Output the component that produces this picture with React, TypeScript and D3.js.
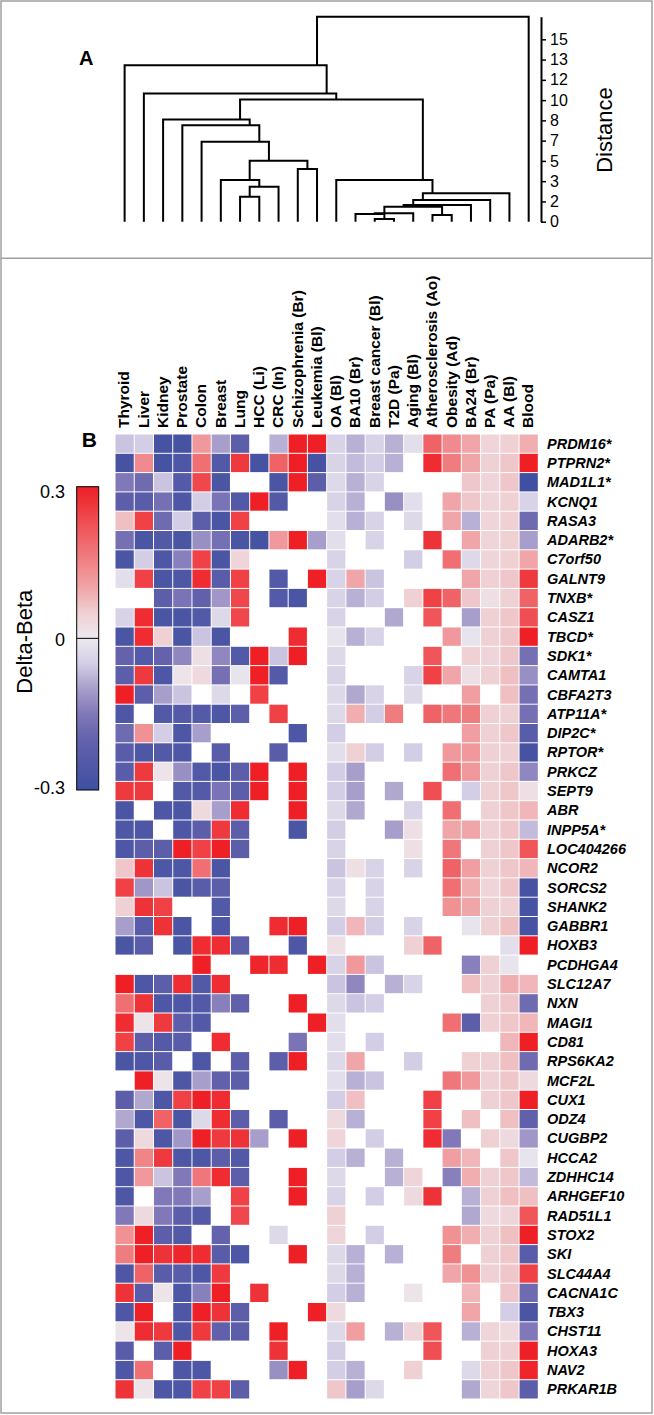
import React, { useEffect, useRef } from 'react';
import * as d3 from 'd3';

const conditions = [
  'Thyroid', 'Liver', 'Kidney', 'Prostate', 'Colon', 'Breast', 'Lung', 'HCC (Li)', 'CRC (In)',
  'Schizophrenia (Br)', 'Leukemia (Bl)', 'OA (Bl)', 'BA10 (Br)', 'Breast cancer (Bl)', 'T2D (Pa)',
  'Aging (Bl)', 'Atherosclerosis (Ao)', 'Obesity (Ad)', 'BA24 (Br)', 'PA (Pa)', 'AA (Bl)', 'Blood',
];

const genes = [
  'PRDM16*', 'PTPRN2*', 'MAD1L1*', 'KCNQ1', 'RASA3', 'ADARB2*', 'C7orf50', 'GALNT9', 'TNXB*', 'CASZ1',
  'TBCD*', 'SDK1*', 'CAMTA1', 'CBFA2T3', 'ATP11A*', 'DIP2C*', 'RPTOR*', 'PRKCZ', 'SEPT9', 'ABR',
  'INPP5A*', 'LOC404266', 'NCOR2', 'SORCS2', 'SHANK2', 'GABBR1', 'HOXB3', 'PCDHGA4', 'SLC12A7', 'NXN',
  'MAGI1', 'CD81', 'RPS6KA2', 'MCF2L', 'CUX1', 'ODZ4', 'CUGBP2', 'HCCA2', 'ZDHHC14', 'ARHGEF10',
  'RAD51L1', 'STOX2', 'SKI', 'SLC44A4', 'CACNA1C', 'TBX3', 'CHST11', 'HOXA3', 'NAV2', 'PRKAR1B',
];

const _ = null;
// delta-beta per gene (rows) and condition (columns); null = not significant
const deltaBeta: (number | null)[][] = [
  [-0.06, -0.05, -0.28, -0.28, 0.12, -0.1, -0.22, _, -0.08, 0.3, 0.3, -0.04, -0.08, -0.04, -0.08, -0.02, 0.2, 0.14, 0.1, 0.04, 0.05, 0.09],
  [-0.28, 0.14, -0.28, -0.26, 0.18, -0.25, 0.26, -0.28, 0.2, 0.3, -0.28, -0.04, -0.07, -0.05, -0.08, _, 0.28, 0.16, 0.1, 0.05, 0.06, 0.3],
  [-0.15, -0.18, -0.06, -0.24, 0.24, -0.27, _, _, -0.27, 0.3, -0.22, -0.03, -0.08, -0.04, _, _, _, _, 0.06, 0.04, 0.06, -0.3],
  [-0.22, -0.23, -0.17, -0.26, -0.05, -0.16, -0.25, 0.3, -0.25, _, _, -0.04, -0.08, _, -0.12, -0.02, _, 0.1, 0.06, 0.04, 0.05, -0.04],
  [0.07, 0.25, -0.18, -0.05, -0.22, -0.27, 0.25, _, _, _, _, -0.02, -0.08, -0.04, _, -0.03, _, 0.1, -0.08, 0.04, 0.05, -0.18],
  [-0.17, -0.27, -0.25, -0.27, -0.12, -0.17, -0.27, -0.28, 0.12, 0.3, -0.1, -0.02, _, -0.04, _, _, 0.27, _, 0.1, 0.04, 0.05, -0.1],
  [-0.27, -0.05, -0.26, -0.14, 0.25, -0.27, 0.04, _, _, _, _, -0.04, _, _, _, -0.05, _, 0.18, -0.03, 0.04, 0.05, 0.1],
  [-0.02, 0.25, -0.27, -0.26, 0.28, -0.23, 0.25, _, -0.25, _, 0.3, -0.04, 0.1, -0.06, _, _, _, _, 0.1, 0.05, 0.06, 0.26],
  [_, _, -0.22, -0.16, -0.21, -0.11, 0.24, _, -0.24, -0.27, _, -0.04, -0.08, -0.05, _, 0.05, 0.25, 0.2, 0.06, 0.02, 0.05, 0.2],
  [-0.04, 0.28, -0.27, -0.27, -0.25, -0.03, 0.24, _, _, _, _, -0.04, _, _, -0.09, _, 0.22, _, -0.1, 0.05, 0.06, 0.23],
  [-0.27, 0.28, 0.05, -0.27, -0.06, -0.27, _, _, _, 0.28, _, -0.01, -0.08, -0.04, _, _, _, 0.12, -0.01, 0.05, 0.06, 0.3],
  [-0.2, -0.24, -0.2, -0.13, 0.02, -0.13, -0.25, 0.3, -0.06, 0.3, _, -0.03, _, _, _, _, 0.22, _, 0.05, 0.04, 0.06, -0.17],
  [-0.22, 0.26, -0.26, 0.01, 0.03, -0.17, -0.01, 0.3, -0.24, _, _, -0.04, _, _, _, -0.04, 0.25, 0.1, 0.02, 0.05, 0.07, -0.12],
  [0.3, -0.22, -0.1, -0.06, _, -0.03, _, 0.25, _, _, _, -0.03, -0.09, -0.04, _, -0.03, _, _, 0.11, _, 0.07, -0.17],
  [-0.26, _, -0.25, -0.24, -0.24, -0.26, -0.22, _, 0.25, _, _, -0.03, 0.09, -0.05, 0.16, _, 0.2, 0.17, 0.16, 0.05, 0.05, -0.17],
  [-0.18, 0.13, -0.05, -0.26, -0.1, _, _, _, _, -0.26, _, -0.05, _, _, _, _, _, _, 0.11, 0.05, 0.06, -0.23],
  [-0.23, -0.26, -0.25, -0.26, _, -0.23, _, _, -0.23, _, _, -0.02, 0.05, -0.05, _, -0.05, _, 0.12, 0.12, 0.05, 0.05, -0.28],
  [-0.23, 0.26, 0.01, -0.12, -0.25, -0.27, -0.22, 0.3, _, 0.3, _, -0.05, -0.1, _, _, _, _, 0.18, 0.12, 0.05, 0.06, -0.13],
  [0.26, 0.26, _, -0.25, -0.24, -0.16, -0.22, 0.3, _, 0.3, _, -0.05, -0.1, _, -0.09, _, 0.23, _, -0.05, 0.05, 0.06, 0.02],
  [-0.27, _, -0.26, -0.27, 0.03, -0.1, 0.28, _, _, 0.3, _, -0.03, -0.09, _, _, -0.04, _, 0.18, _, 0.05, 0.06, 0.08],
  [-0.26, -0.26, _, -0.26, -0.22, 0.26, -0.22, _, _, -0.27, _, -0.05, _, _, -0.1, 0.02, _, 0.1, 0.1, 0.05, 0.06, -0.07],
  [-0.26, -0.22, -0.22, 0.3, 0.25, 0.3, -0.22, _, _, _, _, -0.04, _, _, _, 0.02, _, 0.17, _, 0.05, 0.06, 0.22],
  [0.06, 0.27, -0.26, -0.26, 0.18, -0.27, _, _, _, _, _, -0.06, 0.02, -0.04, _, -0.04, _, 0.2, 0.11, 0.05, 0.06, 0.08],
  [0.25, -0.11, -0.06, -0.27, -0.23, -0.22, _, _, _, _, _, -0.04, _, -0.04, _, _, _, 0.18, 0.09, 0.04, 0.06, -0.28],
  [0.05, 0.27, 0.25, _, _, -0.25, _, _, _, _, _, -0.03, _, -0.04, _, _, _, 0.13, 0.1, 0.05, 0.05, -0.28],
  [-0.1, -0.23, 0.27, -0.27, _, -0.26, _, _, 0.28, 0.3, _, -0.05, 0.08, -0.05, _, -0.04, _, _, -0.01, 0.05, 0.07, -0.28],
  [-0.27, -0.23, _, -0.27, 0.28, 0.28, -0.22, _, _, -0.26, _, 0.02, _, _, _, 0.05, 0.2, _, _, _, -0.02, 0.3],
  [_, _, _, _, 0.3, _, _, 0.29, 0.28, _, 0.3, -0.04, 0.12, -0.06, _, _, _, _, -0.14, 0.05, -0.01, _],
  [0.3, -0.26, -0.22, 0.28, -0.25, 0.28, _, _, _, _, _, -0.06, -0.13, _, -0.08, -0.04, _, _, 0.07, 0.05, 0.09, 0.08],
  [0.18, 0.27, -0.26, -0.26, -0.25, -0.14, -0.21, _, _, 0.3, _, -0.03, -0.06, -0.05, _, _, _, _, _, 0.05, 0.06, -0.18],
  [0.28, 0.01, 0.26, -0.22, -0.25, _, _, _, _, _, 0.3, -0.02, _, _, _, _, _, 0.18, -0.22, 0.05, 0.06, 0.08],
  [0.25, -0.22, -0.24, -0.23, _, 0.28, _, _, _, -0.16, _, -0.02, _, -0.05, _, _, _, _, _, _, 0.08, 0.3],
  [-0.27, -0.26, -0.23, _, -0.26, _, -0.22, _, -0.22, 0.3, _, -0.03, 0.1, _, _, -0.05, _, _, 0.05, 0.05, 0.07, -0.18],
  [_, 0.3, 0.01, -0.26, -0.1, -0.21, -0.22, _, _, _, _, -0.02, -0.08, -0.06, _, _, _, 0.17, 0.12, 0.05, 0.06, 0.03],
  [-0.22, -0.09, -0.26, 0.25, 0.3, 0.28, _, _, _, _, _, -0.05, 0.07, _, _, _, 0.25, _, _, 0.05, 0.06, 0.3],
  [-0.09, -0.26, 0.2, -0.27, -0.03, 0.28, -0.22, _, -0.22, _, _, 0.03, -0.08, _, _, _, 0.25, _, 0.07, _, 0.07, -0.21],
  [-0.22, 0.03, -0.26, -0.11, 0.3, 0.26, 0.27, -0.1, _, 0.3, _, 0.04, _, -0.05, _, _, 0.28, -0.15, _, 0.05, 0.03, -0.11],
  [-0.26, 0.15, 0.26, -0.26, -0.26, -0.22, -0.25, _, _, _, _, -0.05, -0.08, _, -0.08, _, _, 0.11, 0.08, _, 0.06, -0.01],
  [-0.26, 0.12, -0.06, -0.15, 0.17, 0.28, -0.22, _, _, 0.3, _, -0.03, _, _, -0.08, 0.04, _, -0.14, 0.09, 0.05, 0.06, -0.07],
  [-0.26, _, -0.15, -0.15, -0.1, _, 0.25, _, _, 0.3, _, -0.04, _, -0.05, _, 0.03, 0.27, _, -0.08, 0.05, 0.07, 0.07],
  [-0.15, 0.03, -0.15, -0.22, -0.24, _, 0.24, _, _, _, _, 0.05, _, _, _, _, _, _, -0.09, 0.03, 0.04, 0.22],
  [0.13, 0.3, -0.22, -0.25, _, -0.2, _, _, -0.03, _, _, 0.04, _, -0.05, _, _, _, 0.13, 0.09, 0.05, 0.07, 0.3],
  [0.16, 0.3, 0.27, 0.29, 0.28, -0.23, -0.26, _, _, 0.3, _, -0.03, -0.08, _, -0.08, _, _, 0.16, _, 0.05, 0.06, -0.23],
  [-0.26, 0.2, -0.23, -0.23, -0.26, 0.26, _, _, _, _, _, -0.03, -0.08, _, _, _, _, 0.1, 0.13, 0.05, 0.06, 0.25],
  [0.27, -0.23, 0.01, -0.26, -0.14, 0.3, _, 0.27, _, _, _, -0.05, -0.08, _, _, 0.01, _, _, 0.08, _, 0.06, -0.18],
  [-0.26, 0.3, _, -0.26, 0.3, 0.27, -0.22, _, _, _, 0.3, 0.03, _, _, _, _, _, _, 0.1, _, -0.05, -0.27],
  [0.01, 0.28, 0.26, -0.26, 0.26, -0.21, -0.22, _, 0.3, _, _, -0.03, 0.11, _, -0.08, 0.04, 0.22, _, -0.08, 0.04, 0.03, -0.15],
  [-0.23, _, -0.22, 0.3, _, _, _, _, 0.27, _, _, -0.05, _, _, _, _, 0.23, _, _, 0.05, 0.05, 0.3],
  [-0.26, 0.18, _, -0.26, -0.26, _, _, _, -0.12, 0.3, _, -0.05, -0.08, _, _, 0.05, _, _, -0.03, 0.05, 0.06, 0.29],
  [0.27, 0.01, -0.26, -0.26, 0.25, 0.25, -0.22, _, _, _, _, 0.06, -0.1, -0.03, _, _, _, _, -0.09, 0.04, 0.06, -0.22],
];

// hierarchical clustering merges: [nodeA, nodeB, distance]; leaves are 0..21, new nodes 22+
const linkage: [number, number, number][] = [
  [6, 7, 2.05], [22, 8, 2.87], [5, 23, 3.42], [9, 10, 4.33], [24, 25, 5.01], [4, 26, 6.57],
  [3, 27, 7.94], [2, 28, 8.41], [13, 14, 0.22], [12, 30, 0.63], [31, 15, 0.69], [16, 17, 0.55],
  [32, 33, 1.23], [34, 18, 1.37], [35, 19, 1.78], [36, 20, 2.33], [11, 37, 3.42], [29, 38, 10.05],
  [1, 39, 10.54], [0, 40, 12.87], [41, 21, 16.86],
];

const distanceTicks = d3.range(10).map((i) => (i * 5) / 3);
const colorbarTicks = [0.3, 0, -0.3];
const colorDomain = [-0.3, -0.2, -0.15, -0.1, -0.05, 0, 0.05, 0.1, 0.2, 0.3];
const colorRange = ['#3F4FA1', '#6462AC', '#8078B8', '#A89ECB', '#D3CEE5', '#EDE9EF', '#EFD0D3', '#F0A5A8', '#EF6266', '#EE1F25'];

const FONT = '"Liberation Sans", Arial, Helvetica, sans-serif';

export default function App() {
  const axisRef = useRef<SVGGElement>(null);

  const x = d3.scaleBand<number>().domain(d3.range(conditions.length)).range([115, 538.3]);
  const y = d3.scaleBand<number>().domain(d3.range(genes.length)).range([434, 1399]);
  const bw = x.bandwidth();
  const bh = y.bandwidth();
  const color = d3.scaleLinear<string>().domain(colorDomain).range(colorRange).clamp(true);
  const yD = d3.scaleLinear().domain([0, 16.86]).range([221.7, 16.7]);
  const cb = d3.scaleLinear().domain([-0.3, 0.3]).range([790, 486.7]);

  // dendrogram geometry
  const nLeaf = conditions.length;
  const leaves: number[][] = d3.range(nLeaf).map((i) => [i]);
  const heights: number[] = d3.range(nLeaf).map(() => 0);
  linkage.forEach(([a, b, h], k) => {
    leaves[nLeaf + k] = [...leaves[a], ...leaves[b]];
    heights[nLeaf + k] = h;
  });
  const nodeX = (id: number) => d3.mean(leaves[id], (l) => (x(l) as number) + bw / 2) as number;
  const dendroPaths = linkage.map(([a, b, h]) => {
    const p = d3.path();
    p.moveTo(nodeX(a), yD(heights[a]));
    p.lineTo(nodeX(a), yD(h));
    p.lineTo(nodeX(b), yD(h));
    p.lineTo(nodeX(b), yD(heights[b]));
    return p.toString();
  });

  useEffect(() => {
    if (!axisRef.current) return;
    const g = d3.select(axisRef.current);
    g.selectAll('*').remove();
    g.call(
      d3.axisRight(yD).tickValues(distanceTicks).tickFormat((d) => String(Math.round(+d))).tickSize(5).tickSizeOuter(0) as any
    );
    g.select('.domain').attr('stroke', '#000').attr('stroke-width', 2);
    g.selectAll('.tick line').attr('stroke', '#000').attr('stroke-width', 1.5);
    g.selectAll('.tick text').attr('font-size', 16).attr('font-family', FONT).attr('fill', '#000').attr('x', 9);
  }, []);

  const gradStops = d3.range(0, 61).map((i) => {
    const v = 0.3 - i * 0.01;
    return { offset: (i / 60) * 100, c: color(v) };
  });

  return (
    <svg width={654} height={1415} style={{ position: 'absolute', left: 0, top: 0, background: '#fff' }} fontFamily={FONT}>
      <defs>
        <linearGradient id="cbgrad" x1="0" y1="0" x2="0" y2="1">
          {gradStops.map((s, i) => (
            <stop key={i} offset={`${s.offset}%`} stopColor={s.c} />
          ))}
        </linearGradient>
      </defs>
      <rect x={1} y={1} width={651} height={1412} fill="none" stroke="#A0A0A0" strokeWidth={1.5} />
      <line x1={1} x2={652} y1={258.3} y2={258.3} stroke="#A0A0A0" strokeWidth={1.5} />

      {/* Panel A: dendrogram */}
      <text x={79} y={65} fontSize={20} fontWeight="bold">A</text>
      <g fill="none" stroke="#000" strokeWidth={2}>
        {dendroPaths.map((d, i) => (
          <path key={i} d={d} />
        ))}
      </g>
      <g ref={axisRef} transform="translate(541,0)" />
      <text transform="translate(612,130) rotate(-90)" textAnchor="middle" fontSize={22}>Distance</text>

      {/* Panel B */}
      <text x={81.7} y={446.7} fontSize={21} fontWeight="bold">B</text>
      {conditions.map((c, i) => (
        <text
          key={c}
          transform={`translate(${(x(i) as number) + bw / 2 + 4.8},428) rotate(-90)`}
          fontSize={15.5}
          fontWeight="bold"
        >
          {c}
        </text>
      ))}
      {genes.map((g, j) => (
        <text key={g} x={547} y={(y(j) as number) + bh / 2 + 5} fontSize={14.5} fontWeight="bold" fontStyle="italic">
          {g}
        </text>
      ))}
      <g>
        {deltaBeta.map((row, j) =>
          row.map((v, i) =>
            v === null ? null : (
              <rect
                key={`${j}-${i}`}
                x={(x(i) as number) + 0.5}
                y={(y(j) as number) + 0.5}
                width={bw - 1}
                height={bh - 1}
                fill={color(v)}
              />
            )
          )
        )}
      </g>

      {/* colour bar */}
      <rect x={76.7} y={cb(0.3)} width={22} height={cb(-0.3) - cb(0.3)} fill="url(#cbgrad)" stroke="#000" strokeWidth={1} />
      <line x1={76.7} x2={98.7} y1={cb(0)} y2={cb(0)} stroke="#000" strokeWidth={1} />
      {colorbarTicks.map((t) => (
        <text key={t} x={65} y={cb(t) + (t === 0.3 ? 11.5 : t === 0 ? 8 : 4)} textAnchor="end" fontSize={18}>
          {t === 0 ? '0' : String(t)}
        </text>
      ))}
      <text transform="translate(31.5,641.7) rotate(-90)" textAnchor="middle" fontSize={22}>Delta-Beta</text>
    </svg>
  );
}
